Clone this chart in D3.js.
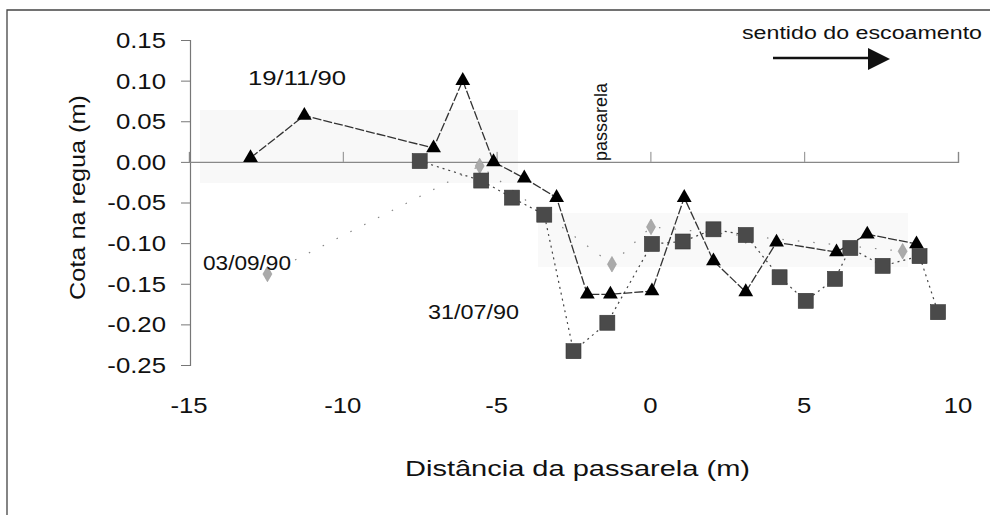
<!DOCTYPE html>
<html>
<head>
<meta charset="utf-8">
<script src="https://cdn.jsdelivr.net/npm/d3@7"></script>
<style>
html,body{margin:0;padding:0;background:#fff;}
svg text{font-family:"Liberation Sans",Arial,Helvetica,sans-serif;fill:#111;}
</style>
</head>
<body>
<svg id="chart" width="990" height="515"></svg>
<script>
// ---- data ----
const xTicks = [-15, -10, -5, 0, 5, 10];
const yTicks = [0.15, 0.10, 0.05, 0.00, -0.05, -0.10, -0.15, -0.20, -0.25];

// 19/11/90 (triangles)
const triX = [-13.0, -11.25, -7.05, -6.1, -5.1, -4.1, -3.05, -2.05, -1.3, 0.05, 1.1, 2.05, 3.1, 4.1, 6.05, 7.05, 8.65];
const triY = [0.005, 0.057, 0.017, 0.100, 0.000, -0.020, -0.044, -0.163, -0.163, -0.159, -0.044, -0.122, -0.160, -0.099, -0.111, -0.089, -0.101];

// 31/07/90 (squares)
const sqX = [-7.5, -5.5, -4.5, -3.45, -2.5, -1.4, 0.05, 1.05, 2.05, 3.1, 4.2, 5.05, 6.0, 6.5, 7.55, 8.75, 9.35];
const sqY = [0.001, -0.023, -0.044, -0.065, -0.233, -0.198, -0.101, -0.098, -0.083, -0.090, -0.142, -0.171, -0.144, -0.106, -0.128, -0.116, -0.185];

// 03/09/90 (diamonds)
const diaX = [-12.45, -5.55, -1.25, 0.02, 3.1, 8.2];
const diaY = [-0.138, -0.005, -0.126, -0.080, -0.091, -0.110];

const seriesLabels = ["19/11/90", "31/07/90", "03/09/90"];
const xTitle = "Distância da passarela (m)";
const yTitle = "Cota na regua (m)";

// ---- drawing ----
const svg = d3.select("#chart");
const x = d3.scaleLinear().domain([-15, 10]).range([189, 958]);
const y = d3.scaleLinear().domain([-0.25, 0.15]).range([365, 40]);
const SX = 1.17; // horizontal glyph stretch seen in the reference

// outer frame
svg.append("path").attr("d", "M7,515 V10 H990").attr("fill", "none")
  .attr("stroke", "#444").attr("stroke-width", 1.3);

// faint scan shading
svg.append("rect").attr("x", 200).attr("y", 110).attr("width", 318).attr("height", 73).attr("fill", "#f8f8f8");
svg.append("rect").attr("x", 538).attr("y", 213).attr("width", 370).attr("height", 54).attr("fill", "#f9f9f9");

// y axis
const yAxis = d3.axisLeft(y).tickValues(yTicks).tickSize(9).tickFormat("");
const gy = svg.append("g").attr("transform", "translate(190,0)").call(yAxis);
gy.select(".domain").attr("stroke", "#777").attr("stroke-width", 1.2);
gy.selectAll(".tick line").attr("stroke", "#777");
svg.append("g").selectAll("text").data(yTicks).join("text")
  .attr("transform", d => `translate(166,${y(d)}) scale(${SX},1)`)
  .attr("text-anchor", "end").attr("dy", "0.36em").attr("font-size", 22)
  .text(d => (d < 0 ? "-" : "") + d3.format(".2f")(Math.abs(d)));

// zero line (x axis crossing at 0) with upward ticks
const gx = svg.append("g").attr("transform", `translate(0,${y(0)})`)
  .call(d3.axisTop(x).tickValues(xTicks).tickSize(10).tickFormat(""));
gx.select(".domain").attr("stroke", "#888").attr("stroke-width", 1.4);
gx.selectAll(".tick line").attr("stroke", "#888");

// x tick labels at bottom
svg.append("g").selectAll("text").data(xTicks).join("text")
  .attr("transform", d => `translate(${x(d)},413) scale(${SX},1)`)
  .attr("text-anchor", "middle").attr("font-size", 22)
  .text(d => d);

// axis titles
svg.append("text").attr("x", 405).attr("y", 476).attr("font-size", 22)
  .attr("textLength", 345).attr("lengthAdjust", "spacingAndGlyphs").text(xTitle);
svg.append("text").attr("transform", "translate(85,300) rotate(-90)")
  .attr("font-size", 22).attr("textLength", 205).attr("lengthAdjust", "spacingAndGlyphs").text(yTitle);

// lines
const line = (xs, ys) => d3.line().x((d, i) => x(xs[i])).y((d, i) => y(ys[i]))(xs);
svg.append("path").attr("d", line(diaX, diaY)).attr("fill", "none")
  .attr("stroke", "#888").attr("stroke-width", 1.2).attr("stroke-dasharray", "1.5,14");
svg.append("path").attr("d", line(sqX, sqY)).attr("fill", "none")
  .attr("stroke", "#444").attr("stroke-width", 1.2).attr("stroke-dasharray", "2,4");
svg.append("path").attr("d", line(triX, triY)).attr("fill", "none")
  .attr("stroke", "#333").attr("stroke-width", 1.3).attr("stroke-dasharray", "9,2");

// markers
svg.append("g").selectAll("path").data(diaX).join("path")
  .attr("transform", (d, i) => `translate(${x(d)},${y(diaY[i])})`)
  .attr("d", d3.symbol().type(d3.symbolDiamond).size(70))
  .attr("fill", "#aaa").attr("stroke", "#999").attr("stroke-width", 0.6);
svg.append("g").selectAll("rect").data(sqX).join("rect")
  .attr("x", d => x(d) - 7.5).attr("y", (d, i) => y(sqY[i]) - 7.5)
  .attr("width", 15).attr("height", 15)
  .attr("fill", "#4a4a4a").attr("stroke", "#333").attr("stroke-width", 0.6);
svg.append("g").selectAll("path").data(triX).join("path")
  .attr("transform", (d, i) => `translate(${x(d)},${y(triY[i])})`)
  .attr("d", d3.symbol().type(d3.symbolTriangle).size(95))
  .attr("fill", "#000");

// series labels
svg.append("text").attr("x", 248).attr("y", 85).attr("font-size", 21)
  .attr("textLength", 98).attr("lengthAdjust", "spacingAndGlyphs").text(seriesLabels[0]);
svg.append("text").attr("x", 428).attr("y", 319).attr("font-size", 21)
  .attr("textLength", 91).attr("lengthAdjust", "spacingAndGlyphs").text(seriesLabels[1]);
svg.append("text").attr("x", 203).attr("y", 270).attr("font-size", 21)
  .attr("textLength", 88).attr("lengthAdjust", "spacingAndGlyphs").text(seriesLabels[2]);

// passarela label
svg.append("text").attr("transform", "translate(607,161) rotate(-90)")
  .attr("font-size", 19).attr("textLength", 78).attr("lengthAdjust", "spacingAndGlyphs").text("passarela");

// flow direction
svg.append("text").attr("x", 742).attr("y", 39).attr("font-size", 18)
  .attr("textLength", 240).attr("lengthAdjust", "spacingAndGlyphs").text("sentido do escoamento");
svg.append("line").attr("x1", 773).attr("x2", 870).attr("y1", 58).attr("y2", 58)
  .attr("stroke", "#111").attr("stroke-width", 2.5);
svg.append("path").attr("d", "M868,48 L890,59 L868,70 Z").attr("fill", "#111");
</script>
</body>
</html>
